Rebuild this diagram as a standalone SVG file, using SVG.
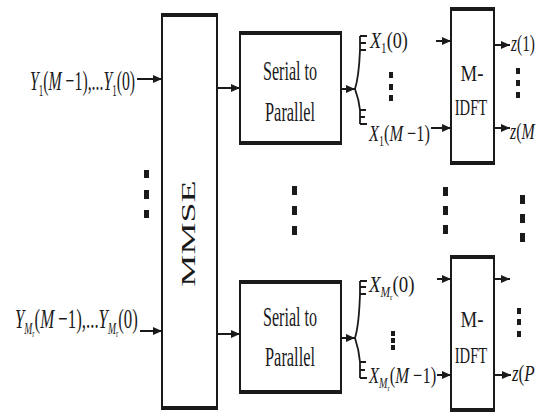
<svg xmlns="http://www.w3.org/2000/svg" width="536" height="412" viewBox="0 0 536 412">
<style>
.box{fill:#fff;stroke:#1a1a1a;stroke-width:2}
.edge{stroke:#1a1a1a;stroke-width:4}
.ln{fill:none;stroke:#1a1a1a;stroke-width:1.8}
.arr{fill:none;stroke:#1a1a1a;stroke-width:2;marker-end:url(#ah)}
.t{font-family:"Liberation Serif","Times New Roman",serif;fill:#1a1a1a}
.i{font-style:italic}
.dot{fill:#1a1a1a}
</style>
<defs>
<marker id="ah" markerUnits="userSpaceOnUse" markerWidth="10" markerHeight="9" refX="9" refY="4.5" orient="auto">
<path d="M0,0.5 L9,4.5 L0,8.5 z" fill="#1a1a1a"/>
</marker>
</defs>
<rect width="536" height="412" fill="#fff"/>

<g id="mmse">
<rect class="box" x="162" y="15" width="55" height="393"/>
<line class="edge" x1="161" y1="15" x2="218" y2="15"/>
<line class="edge" x1="161" y1="408" x2="218" y2="408"/>
<text class="t" font-size="19" text-anchor="middle" transform="translate(195,233.5) rotate(-90) scale(1.9,1)">MMSE</text>
</g>

<g id="in1">
<text class="t" font-size="28" transform="translate(30,90) scale(0.563,1)"><tspan class="i">Y</tspan><tspan font-size="16" dy="6">1</tspan><tspan dy="-6">(</tspan><tspan class="i">M</tspan><tspan> −1),...</tspan><tspan class="i">Y</tspan><tspan font-size="16" dy="6">1</tspan><tspan dy="-6">(0)</tspan></text>
</g>
<g id="in2">
<text class="t" font-size="28" transform="translate(15,328) scale(0.6,1)"><tspan class="i">Y</tspan><tspan class="i" font-size="16" dy="6">M</tspan><tspan font-size="11" dy="3">r</tspan><tspan dy="-9">(</tspan><tspan class="i">M</tspan><tspan> −1),...</tspan><tspan class="i">Y</tspan><tspan class="i" font-size="16" dy="6">M</tspan><tspan font-size="11" dy="3">r</tspan><tspan dy="-9">(0)</tspan></text>
</g>

<g id="s2p1">
<rect class="box" x="240" y="33" width="101" height="110"/>
<line class="edge" x1="239" y1="33" x2="342" y2="33"/>
<line class="edge" x1="239" y1="143" x2="342" y2="143"/>
<text class="t" font-size="28" text-anchor="middle" transform="translate(290,80) scale(0.575,1)">Serial to</text>
<text class="t" font-size="28" text-anchor="middle" transform="translate(290,121) scale(0.585,1)">Parallel</text>
</g>
<g id="s2p2">
<rect class="box" x="240" y="282" width="101" height="110"/>
<line class="edge" x1="239" y1="282" x2="342" y2="282"/>
<line class="edge" x1="239" y1="392" x2="342" y2="392"/>
<text class="t" font-size="28" text-anchor="middle" transform="translate(290,326) scale(0.575,1)">Serial to</text>
<text class="t" font-size="28" text-anchor="middle" transform="translate(290,366) scale(0.585,1)">Parallel</text>
</g>

<g id="idft1">
<rect class="box" x="451" y="9" width="43" height="154"/>
<line class="edge" x1="450" y1="9" x2="495" y2="9"/>
<line class="edge" x1="450" y1="163" x2="495" y2="163"/>
<text class="t" font-size="24" text-anchor="middle" transform="translate(472,81) scale(0.78,1)">M-</text>
<text class="t" font-size="24" text-anchor="middle" transform="translate(471,115) scale(0.61,1)">IDFT</text>
</g>
<g id="idft2">
<rect class="box" x="451" y="257" width="43" height="153"/>
<line class="edge" x1="450" y1="257" x2="495" y2="257"/>
<line class="edge" x1="450" y1="410" x2="495" y2="410"/>
<text class="t" font-size="24" text-anchor="middle" transform="translate(472,327) scale(0.78,1)">M-</text>
<text class="t" font-size="24" text-anchor="middle" transform="translate(471,363) scale(0.61,1)">IDFT</text>
</g>

<g id="labels">
<text class="t" font-size="23" transform="translate(370,48) scale(0.79,1)"><tspan class="i">X</tspan><tspan font-size="14" dy="5">1</tspan><tspan dy="-5">(0)</tspan></text>
<text class="t" font-size="23" transform="translate(369,141) scale(0.71,1)"><tspan class="i">X</tspan><tspan font-size="14" dy="5">1</tspan><tspan dy="-5">(</tspan><tspan class="i">M</tspan><tspan> −1)</tspan></text>
<text class="t" font-size="23" transform="translate(369,292) scale(0.82,1)"><tspan class="i">X</tspan><tspan class="i" font-size="14" dy="5">M</tspan><tspan font-size="9" dy="3">r</tspan><tspan dy="-8">(0)</tspan></text>
<text class="t" font-size="23" transform="translate(369,383) scale(0.72,1)"><tspan class="i">X</tspan><tspan class="i" font-size="14" dy="5">M</tspan><tspan font-size="9" dy="3">r</tspan><tspan dy="-8">(</tspan><tspan class="i">M</tspan><tspan> −1)</tspan></text>
<text class="t" font-size="23" transform="translate(511,51) scale(0.67,1)"><tspan class="i">z</tspan>(1)</text>
<text class="t" font-size="23" transform="translate(510,139) scale(0.69,1)"><tspan class="i">z</tspan>(<tspan class="i">M</tspan></text>
<text class="t" font-size="23" transform="translate(512,381) scale(0.74,1)"><tspan class="i">z</tspan>(<tspan class="i">P</tspan></text>
</g>

<g id="dots">
<rect class="dot" x="144" y="170" width="5" height="8"/>
<rect class="dot" x="144" y="190" width="5" height="9"/>
<rect class="dot" x="144" y="210" width="5" height="8"/>
<rect class="dot" x="292" y="186" width="5" height="9"/>
<rect class="dot" x="292" y="206" width="5" height="9"/>
<rect class="dot" x="292" y="226" width="5" height="9"/>
<rect class="dot" x="443" y="187" width="5" height="9"/>
<rect class="dot" x="443" y="206" width="5" height="9"/>
<rect class="dot" x="443" y="225" width="5" height="9"/>
<rect class="dot" x="520" y="195" width="5" height="9"/>
<rect class="dot" x="520" y="214" width="5" height="9"/>
<rect class="dot" x="520" y="233" width="5" height="9"/>
<rect class="dot" x="389" y="72" width="4" height="6"/>
<rect class="dot" x="389" y="84" width="4" height="6"/>
<rect class="dot" x="389" y="95" width="4" height="6"/>
<rect class="dot" x="516" y="68" width="4" height="6"/>
<rect class="dot" x="516" y="80" width="4" height="6"/>
<rect class="dot" x="516" y="92" width="4" height="6"/>
<rect class="dot" x="391" y="331" width="4" height="5"/>
<rect class="dot" x="391" y="338" width="4" height="5"/>
<rect class="dot" x="391" y="345" width="4" height="5"/>
<rect class="dot" x="517" y="308" width="4" height="6"/>
<rect class="dot" x="517" y="319" width="4" height="6"/>
<rect class="dot" x="517" y="331" width="4" height="6"/>
</g>

<g id="connectors">
<line class="arr" x1="137" y1="79" x2="162" y2="79"/>
<line class="arr" x1="140" y1="331" x2="162" y2="331"/>
<line class="arr" x1="217" y1="88" x2="240" y2="88"/>
<line class="arr" x1="217" y1="334" x2="240" y2="334"/>
<line class="arr" x1="341" y1="89" x2="355" y2="89"/>
<line class="arr" x1="341" y1="338" x2="355" y2="338"/>
<path class="ln" d="M355,89 Q359,76 360,50 V36 M360,36 H367 M360,43 H366 M360,50 H366"/>
<path class="ln" d="M355,89 Q359,100 360,110 V124 M360,110 H366 M360,117 H365 M360,124 H367"/>
<path class="ln" d="M355,338 Q359,325 360,294 V281 M360,281 H367 M360,287 H366 M360,294 H366"/>
<path class="ln" d="M355,338 Q359,350 360,362 V378 M360,362 H366 M360,370 H365 M360,378 H367"/>
<line class="arr" x1="436" y1="41" x2="451" y2="41"/>
<line class="arr" x1="431" y1="128" x2="451" y2="128"/>
<line class="arr" x1="437" y1="279" x2="451" y2="279"/>
<line class="arr" x1="437" y1="375" x2="451" y2="375"/>
<line class="arr" x1="494" y1="45" x2="510" y2="45"/>
<line class="arr" x1="494" y1="128" x2="510" y2="128"/>
<line class="arr" x1="494" y1="279" x2="510" y2="279"/>
<line class="arr" x1="494" y1="375" x2="511" y2="375"/>
</g>
</svg>
